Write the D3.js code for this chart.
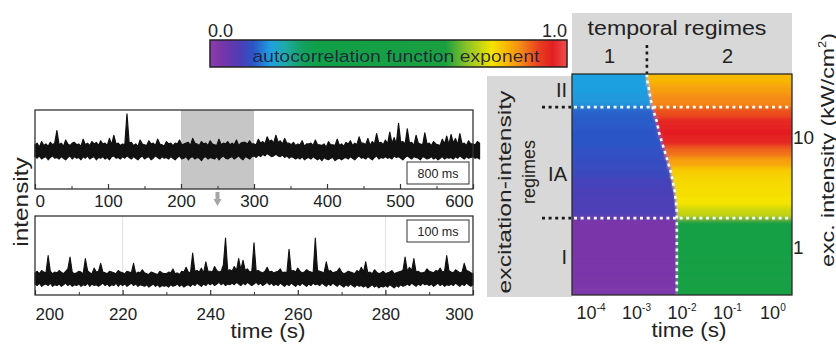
<!DOCTYPE html>
<html><head><meta charset="utf-8">
<script src="https://cdn.jsdelivr.net/npm/d3@7"></script>
<style>
body{margin:0;background:#fff}
svg{display:block;font-family:"Liberation Sans",Arial,Helvetica,sans-serif}
</style>
</head><body>
<svg id="c" width="836" height="350"></svg>
<script>
// ---------------- DATA ----------------
const overviewTicks = [0, 100, 200, 300, 400, 500, 600];
const overviewMinorTicks = [50, 150, 250, 350, 450, 550];
const overviewStart = 0, overviewStep = 3; // s per bin
// per-bin maximum / minimum of the 800 ms trace
const overviewHigh = [
 56,58,53,60,55,57,54,59,56,58,
 74,56,58,54,62,57,55,58,59,56,
 57,54,63,56,58,55,60,57,59,55,
 61,57,58,55,64,56,68,57,58,55,
 57,56,95,58,59,55,57,54,62,57,
 56,55,61,57,58,55,63,57,56,54,
 60,57,58,55,58,57,62,56,57,58,
 59,55,64,58,57,55,60,57,58,55,
 61,57,56,55,63,56,58,57,60,56,
 58,56,62,55,58,59,59,57,61,57,
 57,56,63,58,60,57,66,60,62,58,
 68,59,61,57,64,58,58,56,59,55,
 57,56,61,54,57,57,58,55,62,56,
 56,55,57,53,60,56,56,55,63,55,
 57,54,59,57,61,55,58,56,66,58,
 58,56,64,55,60,57,70,58,59,56,
 62,57,72,58,65,57,83,59,60,57,
 76,58,59,55,68,58,57,56,71,57,
 58,55,60,57,56,55,63,57,67,56,
 69,58,64,56,70,57,58,55,61,57,
 57,56,60,58
];
const overviewLow = [
 41,39,42,38,40,41,37,40,42,39,
 40,38,41,39,37,40,42,38,41,39,
 40,37,41,39,42,38,40,41,37,40,
 39,41,38,40,37,41,42,39,40,38,
 41,39,42,40,38,41,39,37,40,42,
 38,40,41,37,39,42,40,38,41,39,
 40,38,41,39,37,40,42,38,39,41,
 37,40,41,38,40,39,36,40,41,38,
 40,39,38,41,37,40,42,39,38,40,
 41,38,40,42,39,37,41,40,38,41,
 42,40,43,41,44,42,45,43,41,42,
 44,42,41,43,40,42,39,41,40,38,
 40,38,41,37,39,40,38,41,39,37,
 39,36,40,38,37,39,40,36,38,39,
 37,39,40,38,41,39,37,40,42,39,
 40,38,41,39,37,40,42,38,40,39,
 41,39,40,38,42,40,41,39,37,40,
 42,40,38,41,40,39,37,41,40,38,
 39,41,38,40,37,39,41,38,40,39,
 40,38,41,39,42,40,38,41,39,40,
 41,39,40,38
];
const zoomWindow = [200, 300];
const zoomTicks = [200, 220, 240, 260, 280, 300];
const zoomMinorTicks = [210, 230, 250, 270, 290];
const zoomStart = 200, zoomStep = 0.5;
// per-bin maximum / minimum of the 100 ms trace
const zoomHigh = [
 28,30,27,31,29,28,50,30,27,29,
 28,31,29,27,30,33,48,29,27,28,
 30,29,27,46,31,28,27,34,29,30,
 40,29,28,27,30,29,28,27,31,29,
 28,27,30,29,28,40,27,29,28,32,
 28,27,26,29,28,27,26,30,28,27,
 27,29,28,33,27,28,26,30,29,35,
 29,28,53,30,31,29,34,28,42,30,
 30,29,36,31,29,30,38,72,31,32,
 30,36,31,46,32,44,31,33,29,30,
 66,30,31,29,28,30,35,29,30,28,
 29,30,33,28,29,28,58,30,31,29,
 34,30,28,29,32,30,29,28,72,31,
 30,29,28,42,30,31,28,29,30,34,
 29,27,28,30,29,28,27,31,29,35,
 29,42,28,29,27,32,29,27,28,30,
 27,28,29,31,27,28,29,30,31,48,
 30,35,31,46,29,30,28,28,29,33,
 30,29,28,31,30,34,29,30,50,31,
 29,28,32,30,28,29,40,31,30,28,
 27
];
const zoomLow = [
 14,12,15,11,13,14,12,15,11,13,
 12,14,11,13,15,12,14,11,13,12,
 14,11,13,12,15,11,14,12,13,11,
 13,15,12,14,11,13,12,15,11,14,
 12,14,11,13,15,12,14,11,13,12,
 11,13,10,12,14,11,13,10,12,11,
 12,10,13,11,12,14,11,13,10,12,
 13,11,14,12,15,13,11,14,12,15,
 13,15,12,14,16,13,15,12,14,13,
 15,13,16,14,12,15,13,16,14,12,
 14,16,13,15,12,14,16,13,15,12,
 14,12,15,13,11,14,12,15,13,11,
 14,12,15,13,11,14,12,15,13,14,
 12,15,13,11,14,12,15,13,11,14,
 12,10,13,11,14,12,10,13,11,12,
 10,12,9,11,13,10,12,9,11,10,
 12,10,13,11,9,12,10,13,11,12,
 14,12,15,13,11,14,12,15,13,14,
 12,14,11,13,15,12,14,11,13,12,
 14,12,15,13,11,14,12,15,13,11,
 13
];
const zoomGuideTimes = [220, 280];
const binLabels = ["800 ms", "100 ms"];

// colour scale of the autocorrelation exponent
const colorStopValues = [0.00, 0.03, 0.07, 0.09, 0.12, 0.14, 0.17, 0.21, 0.26, 0.30, 0.66, 0.72, 0.79, 0.83, 0.87, 0.92, 0.96, 1.00];
const colorStopColors = ["#8a3fb0","#7a36a8","#5a3ab2","#4a40b8","#2c54c6","#2870d0","#1ea0e0","#20aaa8","#14a060","#10a048","#1aa040","#8cc428","#f5e400","#f8b800","#f58a18","#e84020","#e41e22","#ec5050"];
const colorbarTickLabels = ["0.0", "1.0"];
const colorbarTitle = "autocorrelation function exponent";

// heat map: rows of excitation intensity (kW/cm^2), top to bottom
const timeDomain = [Math.pow(10, -4.42), Math.pow(10, 0.42)];
const intensityDomain = [0.366, 37.4];
const timeTicks = [1e-4, 1e-3, 1e-2, 1e-1, 1];
const timeTickExponents = ["-4", "-3", "-2", "-1", "0"];
const intensityTicks = [10, 1];
const intensityTickLabels = ["10", "1"];
const intensityEdges = [37.4,30.3,24.6,18.7,15.2,12.3,10,8.1,6.6,5.3,4.3,3.5,2.85,2.31,1.83,1.49,1.21,0.98,0.79,0.64,0.52,0.43,0.366];
const exponentRegime1 = [0.17,0.17,0.165,0.13,0.125,0.12,0.12,0.115,0.11,0.105,0.095,0.09,0.085,0.085,0.03,0.03,0.03,0.03,0.03,0.03,0.03,0.02];
const exponentRegime2 = [0.83,0.85,0.87,0.91,0.95,0.96,0.95,0.89,0.85,0.81,0.80,0.795,0.79,0.76,0.5,0.5,0.5,0.5,0.5,0.5,0.5,0.52];
const crossoverTime = [1.69e-3,1.87e-3,2.07e-3,2.41e-3,2.81e-3,3.10e-3,3.61e-3,4.21e-3,4.90e-3,5.70e-3,6.31e-3,6.98e-3,7.35e-3,7.73e-3,7.7e-3,7.7e-3,7.7e-3,7.7e-3,7.7e-3,7.7e-3,7.7e-3,7.7e-3];
const regimeBoundaryIntensity = [18.7, 1.83];
const regimeLabels = ["II", "IA", "I"];
const regimeLabelIntensity = [26.7, 4.6, 0.81];
const temporalLabels = ["1", "2"];

// ---------------- DRAWING ----------------
const svg = d3.select("#c");
const defs = svg.append("defs");

function fitText(sel, x, y, rot, target) {
  const w = sel.node().getBBox().width;
  const s = w > 0 ? target / w : 1;
  sel.attr("transform", `translate(${x},${y}) rotate(${rot}) scale(${s},1)`);
  return sel;
}
function placeText(sel, x, y, rot) {
  return sel.attr("transform", `translate(${x},${y}) rotate(${rot})`);
}

// ----- left: traces -----
const L = 35, R = 473;
const xTop = d3.scaleLinear().domain([0, 600]).range([L, R]);
const yTop = d3.scaleLinear().domain([0, 100]).range([189, 110]);
const xBot = d3.scaleLinear().domain(zoomWindow).range([L, R]);
const yBot = d3.scaleLinear().domain([0, 100]).range([295, 216]);

// shaded zoom window
svg.append("rect")
  .attr("x", xTop(zoomWindow[0])).attr("y", yTop.range()[1])
  .attr("width", xTop(zoomWindow[1]) - xTop(zoomWindow[0]))
  .attr("height", yTop.range()[0] - yTop.range()[1])
  .attr("fill", "#c6c6c6");
const ax = xTop((zoomWindow[0] + zoomWindow[1]) / 2);
svg.append("path").attr("d", `M${ax-2},192 L${ax+2},192 L${ax+2},199 L${ax+4},199 L${ax},206 L${ax-4},199 L${ax-2},199 Z`).attr("fill", "#a6a6a6");

svg.selectAll(".guide").data(zoomGuideTimes).join("line")
  .attr("x1", d => xBot(d)).attr("x2", d => xBot(d))
  .attr("y1", yBot.range()[1]).attr("y2", yBot.range()[0])
  .attr("stroke", "#e2e2e2").attr("stroke-width", 1);

const topArea = d3.area()
  .x((d, i) => xTop(overviewStart + i * overviewStep))
  .y0((d, i) => yTop(overviewLow[i])).y1(d => yTop(d));
svg.append("path").datum(overviewHigh).attr("d", topArea)
  .attr("fill", "#111").attr("stroke", "#111").attr("stroke-width", 1.2).attr("stroke-linejoin", "round");

const botArea = d3.area()
  .x((d, i) => xBot(zoomStart + i * zoomStep))
  .y0((d, i) => yBot(zoomLow[i])).y1(d => yBot(d));
svg.append("path").datum(zoomHigh).attr("d", botArea)
  .attr("fill", "#111").attr("stroke", "#111").attr("stroke-width", 1.1).attr("stroke-linejoin", "round");

// boxes
[yTop, yBot].forEach(ys => {
  svg.append("rect").attr("x", L).attr("y", ys.range()[1]).attr("width", R - L)
    .attr("height", ys.range()[0] - ys.range()[1])
    .attr("fill", "none").attr("stroke", "#333").attr("stroke-width", 1.3);
});

function drawAxis(xs, ys, ticks, minor, pad) {
  const g = svg.append("g").attr("transform", `translate(0,${ys.range()[0]})`)
    .call(d3.axisBottom(xs).tickValues(ticks).tickSize(-5).tickPadding(pad).tickFormat(d3.format("d")));
  g.select(".domain").remove();
  g.selectAll("line").attr("stroke", "#333").attr("stroke-width", 1.2);
  g.selectAll("text").attr("font-size", 17).attr("fill", "#222")
    .attr("font-family", '"Liberation Sans",Arial,sans-serif');
  const t = g.selectAll("text").nodes();
  d3.select(t[0]).attr("text-anchor", "start");
  d3.select(t[t.length - 1]).attr("text-anchor", "end");
  const gm = svg.append("g").attr("transform", `translate(0,${ys.range()[0]})`)
    .call(d3.axisBottom(xs).tickValues(minor).tickSize(-3).tickFormat(""));
  gm.select(".domain").remove();
  gm.selectAll("line").attr("stroke", "#333");
}
drawAxis(xTop, yTop, overviewTicks, overviewMinorTicks, 6);
drawAxis(xBot, yBot, zoomTicks, zoomMinorTicks, 13);

[162, 220].forEach((by, i) => {
  svg.append("rect").attr("x", 407).attr("y", by).attr("width", 62).attr("height", 22)
    .attr("fill", "#fff").attr("stroke", "#333").attr("stroke-width", 1);
  svg.append("text").attr("x", 438).attr("y", by + 16).attr("text-anchor", "middle")
    .attr("font-size", 12.5).attr("fill", "#222").text(binLabels[i]);
});

fitText(svg.append("text").attr("text-anchor", "middle").attr("font-size", 21).attr("fill", "#222").text("intensity"), 28, 202, -90, 90);
fitText(svg.append("text").attr("text-anchor", "middle").attr("font-size", 21).attr("fill", "#222").text("time (s)"), 268, 338, 0, 75);

// ----- colour bar -----
const color = d3.scaleLinear().domain(colorStopValues).range(colorStopColors).interpolate(d3.interpolateRgb);
const grad = defs.append("linearGradient").attr("id", "cbar").attr("x1", "0%").attr("x2", "100%");
grad.selectAll("stop").data(colorStopValues).join("stop")
  .attr("offset", d => (d * 100) + "%").attr("stop-color", (d, i) => colorStopColors[i]);
const cbX = d3.scaleLinear().domain([0, 1]).range([210, 567]);
svg.append("rect").attr("x", cbX(0)).attr("y", 40).attr("width", cbX(1) - cbX(0)).attr("height", 27)
  .attr("fill", "url(#cbar)").attr("stroke", "#222").attr("stroke-width", 1.5);
svg.append("text").attr("x", cbX(0) - 2).attr("y", 37).attr("font-size", 18).attr("fill", "#222").text(colorbarTickLabels[0]);
svg.append("text").attr("x", cbX(1)).attr("y", 37).attr("text-anchor", "end").attr("font-size", 18).attr("fill", "#222").text(colorbarTickLabels[1]);
fitText(svg.append("text").attr("text-anchor", "middle").attr("font-size", 17).attr("fill", "#1c1c3a").attr("opacity", 0.9).text(colorbarTitle), 396, 62, 0, 288);

// ----- heat map -----
const HX0 = 572, HX1 = 792, HY0 = 74, HY1 = 295;
const xT = d3.scaleLog().domain(timeDomain).range([HX0, HX1]);
const yI = d3.scaleLog().domain(intensityDomain).range([HY1, HY0]);

svg.append("rect").attr("x", HX0).attr("y", 13).attr("width", HX1 - HX0).attr("height", HY0 - 13).attr("fill", "#d8d8d8");
svg.append("rect").attr("x", 487).attr("y", 76).attr("width", HX0 - 487).attr("height", 221).attr("fill", "#d8d8d8");

defs.append("clipPath").attr("id", "hclip").append("rect")
  .attr("x", HX0).attr("y", HY0).attr("width", HX1 - HX0).attr("height", HY1 - HY0);
defs.append("filter").attr("id", "hblur").attr("filterUnits", "userSpaceOnUse")
  .attr("x", 540).attr("y", 40).attr("width", 290).attr("height", 290)
  .append("feGaussianBlur").attr("stdDeviation", "1.2 2.5");

const hg = svg.append("g").attr("clip-path", "url(#hclip)").append("g").attr("filter", "url(#hblur)");
exponentRegime1.forEach((v, i) => {
  let y0 = yI(intensityEdges[i]), y1 = yI(intensityEdges[i + 1]);
  if (i === 0) y0 -= 10;
  if (i === exponentRegime1.length - 1) y1 += 10;
  const xb = xT(crossoverTime[i]);
  hg.append("rect").attr("x", HX0 - 10).attr("y", y0).attr("width", xb - HX0 + 10).attr("height", y1 - y0 + 0.6).attr("fill", color(v));
  hg.append("rect").attr("x", xb).attr("y", y0).attr("width", HX1 + 10 - xb).attr("height", y1 - y0 + 0.6).attr("fill", color(exponentRegime2[i]));
});

const dash = "3 3.6";
regimeBoundaryIntensity.forEach(I => {
  svg.append("line").attr("x1", HX0 + 2).attr("x2", HX1).attr("y1", yI(I)).attr("y2", yI(I))
    .attr("stroke", "#f2fff6").attr("stroke-width", 2.6).attr("stroke-dasharray", dash);
  svg.append("line").attr("x1", 542).attr("x2", HX0 - 1).attr("y1", yI(I)).attr("y2", yI(I))
    .attr("stroke", "#1a1a1a").attr("stroke-width", 2.6).attr("stroke-dasharray", dash);
});
const bpts = [[crossoverTime[0], intensityEdges[0]]];
crossoverTime.forEach((t, i) => bpts.push([t, Math.sqrt(intensityEdges[i] * intensityEdges[i + 1])]));
bpts.push([crossoverTime[crossoverTime.length - 1], intensityEdges[intensityEdges.length - 1]]);
svg.append("path").datum(bpts).attr("d", d3.line().x(d => xT(d[0])).y(d => yI(d[1])))
  .attr("fill", "none").attr("stroke", "#eafff0").attr("stroke-width", 2.6).attr("stroke-dasharray", dash);
svg.append("line").attr("x1", xT(crossoverTime[0])).attr("x2", xT(crossoverTime[0]))
  .attr("y1", 45).attr("y2", HY0).attr("stroke", "#1a1a1a").attr("stroke-width", 2.6).attr("stroke-dasharray", dash);

svg.append("rect").attr("x", HX0).attr("y", HY0).attr("width", HX1 - HX0).attr("height", HY1 - HY0)
  .attr("fill", "none").attr("stroke", "#2a2a2a").attr("stroke-width", 1.3);

timeTicks.forEach((t, i) => {
  const tx = svg.append("text").attr("x", xT(t)).attr("y", 319).attr("text-anchor", "middle")
    .attr("font-size", 18).attr("fill", "#222");
  tx.append("tspan").text("10");
  tx.append("tspan").attr("font-size", 10).attr("dy", -8).text(timeTickExponents[i]);
});
intensityTicks.forEach((I, i) => {
  svg.append("text").attr("x", 793).attr("y", yI(I)).attr("dy", "0.36em")
    .attr("font-size", 19).attr("fill", "#222").text(intensityTickLabels[i]);
});
fitText(svg.append("text").attr("text-anchor", "middle").attr("font-size", 21).attr("fill", "#222").text("time (s)"), 689, 337, 0, 75);

const ex = svg.append("text").attr("text-anchor", "middle").attr("font-size", 18).attr("fill", "#222");
ex.append("tspan").text("exc. intensity (kW/cm");
ex.append("tspan").attr("font-size", 10).attr("dy", -8).text("2");
ex.append("tspan").attr("dy", 8).text(")");
fitText(ex, 834, 150, -90, 234);

fitText(svg.append("text").attr("text-anchor", "middle").attr("font-size", 20).attr("fill", "#222").text("temporal regimes"), 677, 35, 0, 179);
const xb0 = xT(crossoverTime[0]);
[(HX0 + xb0) / 2, (xb0 + HX1) / 2 + 8].forEach((cx, i) => {
  svg.append("text").attr("x", cx).attr("y", 63).attr("text-anchor", "middle").attr("font-size", 20).attr("fill", "#222").text(temporalLabels[i]);
});
fitText(svg.append("text").attr("text-anchor", "middle").attr("font-size", 18).attr("fill", "#222").text("excitation-intensity"), 511, 192, -90, 203);
placeText(svg.append("text").attr("text-anchor", "middle").attr("font-size", 18).attr("fill", "#222").text("regimes"), 535, 172, -90);
regimeLabels.forEach((lab, i) => {
  svg.append("text").attr("x", 567).attr("y", yI(regimeLabelIntensity[i])).attr("dy", "0.36em")
    .attr("text-anchor", "end").attr("font-size", 20).attr("fill", "#222").text(lab);
});
</script>
</body></html>
